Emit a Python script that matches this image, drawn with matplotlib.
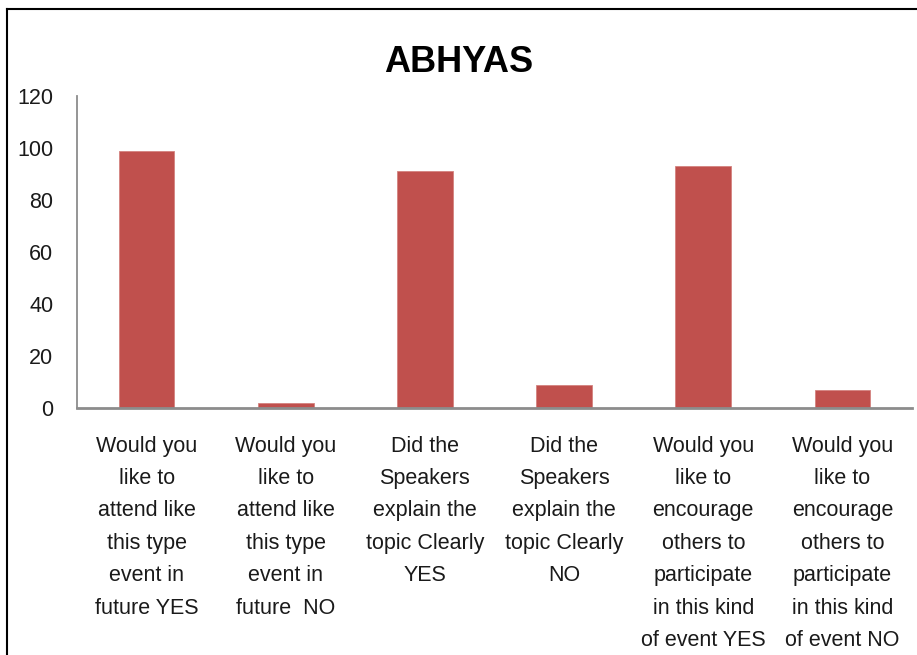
import matplotlib
matplotlib.use("Agg")
import matplotlib.pyplot as plt
from matplotlib.lines import Line2D

categories = [
    "Would you\nlike to\nattend like\nthis type\nevent in\nfuture YES",
    "Would you\nlike to\nattend like\nthis type\nevent in\nfuture  NO",
    "Did the\nSpeakers\nexplain the\ntopic Clearly\nYES",
    "Did the\nSpeakers\nexplain the\ntopic Clearly\nNO",
    "Would you\nlike to\nencourage\nothers to\nparticipate\nin this kind\nof event YES",
    "Would you\nlike to\nencourage\nothers to\nparticipate\nin this kind\nof event NO",
]
values = [99, 2, 91, 9, 93, 7]
yticks = [0, 20, 40, 60, 80, 100, 120]
title = "ABHYAS"

plt.rcParams['font.family'] = ['Liberation Sans', 'DejaVu Sans']

W, H = 917, 655
fig = plt.figure(figsize=(W / 100, H / 100), dpi=100)
ax = fig.add_axes([77 / W, 1 - 408 / H, (912 - 77) / W, (408 - 96) / H])

x = list(range(len(categories)))
ax.bar(x, values, width=0.4, color='#C0504D', edgecolor='#D4827F', linewidth=0.6)
ax.set_xlim(-0.5, len(categories) - 0.5)
ax.set_ylim(0, 120)
ax.set_yticks(yticks)
ax.set_yticklabels([str(v) for v in yticks], fontsize=15.5)
ax.set_xticks(x)
ax.set_xticklabels(categories, fontsize=15.5, linespacing=1.71, ha='center')
ax.tick_params(axis='y', length=0, pad=17, colors='#1a1a1a')
ax.tick_params(axis='x', length=0, pad=20, colors='#1a1a1a')

for s in ['top', 'right']:
    ax.spines[s].set_visible(False)
ax.spines['left'].set_color('#8C8C8C')
ax.spines['left'].set_linewidth(1.3)
ax.spines['bottom'].set_color('#8C8C8C')
ax.spines['bottom'].set_linewidth(2.0)

fig.text(0.5, 1 - 63 / H, title, ha='center', va='center', fontsize=26,
         fontweight='bold', color='black')

# outer chart frame (left and top edges visible)
fig.add_artist(Line2D([7 / W, 7 / W], [0, 1 - 9 / H], transform=fig.transFigure,
                      color='black', linewidth=1.5))
fig.add_artist(Line2D([7 / W, 1], [1 - 9 / H, 1 - 9 / H], transform=fig.transFigure,
                      color='black', linewidth=1.5))

fig.savefig("out.png", dpi=100)
